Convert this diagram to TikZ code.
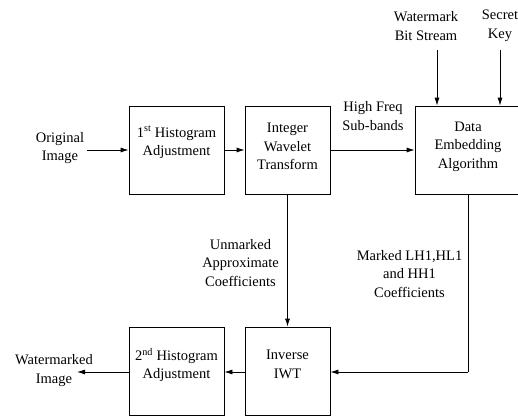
\documentclass[tikz,border=0pt]{standalone}
\usepackage{fontspec}
\setmainfont{Liberation Serif}
\usetikzlibrary{arrows.meta}
\begin{document}
\begin{tikzpicture}[x=1pt,y=-1pt,
  blk/.style={draw, line width=0.8pt, minimum height=88pt, inner sep=0pt},
  txt/.style={align=center, inner sep=3pt, font=\fontsize{14.5}{18.5}\selectfont},
  arr/.style={line width=0.8pt, -{Latex[length=8pt,width=5pt]}},
  ln/.style={line width=0.8pt}]
\useasboundingbox (0,0) rectangle (518,415);
\begin{scope}
\clip (0,0) rectangle (518,415);
% boxes
\node[blk, minimum width=95pt] (b1) at (176.5,150) {};
\node[blk, minimum width=85pt] (b2) at (287.5,150) {};
\node[blk, minimum width=106pt] (b3) at (468,150) {};
\node[blk, minimum width=95pt] (b4) at (176.5,371) {};
\node[blk, minimum width=85pt] (b5) at (287.5,371) {};
% box texts
\node[txt] (t1) at (176.5,142.5) {1\textsuperscript{st} Histogram\\Adjustment};
\node[txt] (t2) at (287.5,146.5) {Integer\\Wavelet\\Transform};
\node[txt] (t3) at (468,146.5) {Data\\Embedding\\Algorithm};
\node[txt] (t4) at (176.5,365) {2\textsuperscript{nd} Histogram\\Adjustment};
\node[txt] (t5) at (287.5,364.5) {Inverse\\IWT};
% outer labels
\node[txt] (orig) at (60,148) {Original\\Image};
\node[txt] (wm) at (54,370.5) {Watermarked\\Image};
\node[txt] (wbs) at (426,26) {Watermark\\Bit Stream};
\node[txt] (sk) at (500,26) {Secret\\Key};
\node[txt] (hf) at (373,116) {High Freq\\Sub-bands};
\node[txt] (um) at (240.5,263) {Unmarked\\Approximate\\Coefficients};
\node[txt] (mk) at (409.5,274) {Marked LH1,HL1\\and HH1\\Coefficients};
% coordinates
\coordinate (wbsA) at (437,50);
\coordinate (skA) at (500,50);
\coordinate (wmEnd) at (77,372);
\coordinate (corner) at (468,372);
% connectors
\draw[arr] (orig.east |- b1.west) -- (b1.west);
\draw[arr] (b1.east) -- (b2.west);
\draw[arr] (b2.east) -- (b3.west);
\draw[arr] (wbsA) -- (wbsA |- b3.north);
\draw[arr] (skA) -- (skA |- b3.north);
\draw[arr] (b2.south) -- (b5.north);
\draw[ln] (b3.south) -- (corner);
\draw[arr] (corner) -- (b5.east |- corner);
\draw[arr] (b5.west |- corner) -- (b4.east |- corner);
\draw[arr] (b4.west |- corner) -- (wmEnd);
\end{scope}
\end{tikzpicture}
\end{document}
